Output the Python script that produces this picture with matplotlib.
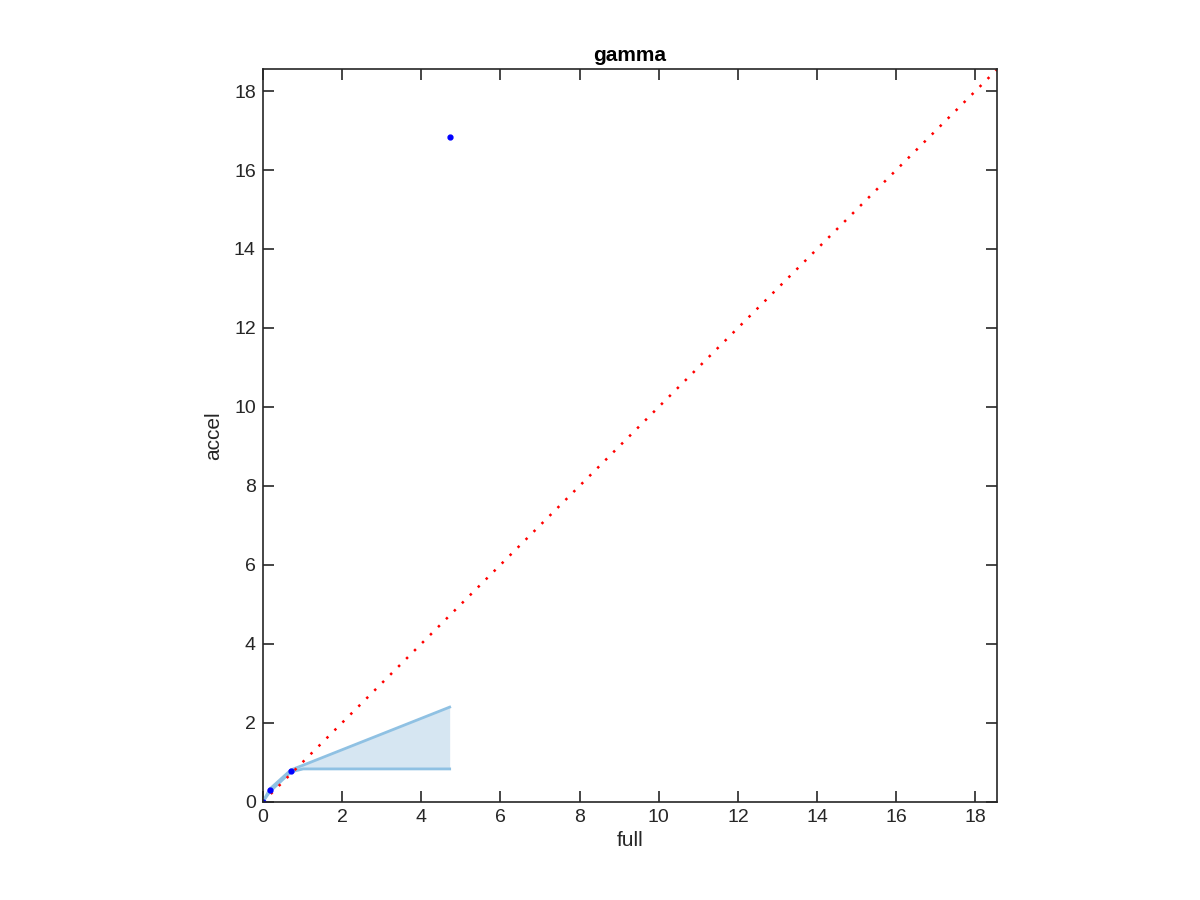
import matplotlib
matplotlib.use('Agg')
import matplotlib.pyplot as plt
import numpy as np

plt.rcParams['font.family'] = ['Liberation Sans', 'DejaVu Sans']

# scatter points (full vs accel)
full_pts = [0.0, 0.18, 0.71, 4.72]
accel_pts = [0.0, 0.30, 0.78, 16.83]

# shaded band
band_x = [0.0, 0.18, 0.71, 1.02, 4.72]
band_lo = [0.0, 0.26, 0.76, 0.835, 0.835]
band_hi = [0.0, 0.33, 0.81, 0.93, 2.40]

lim = 18.55

fig = plt.figure(figsize=(12, 9), dpi=100)
ax = fig.add_axes([0.219, 0.109, 0.612, 0.814])

ax.fill_between(band_x, band_lo, band_hi, color='#D6E6F2', linewidth=0)
ax.plot(band_x, band_lo, color='#8FC1E3', lw=2)
ax.plot(band_x, band_hi, color='#8FC1E3', lw=2)
ax.plot([0, lim], [0, lim], color='red', ls=(0, (1, 3.5)), lw=1.8)
ax.plot(full_pts, accel_pts, 'o', color='blue', ms=3.5, ls='none')

ax.set_xlim(0, lim)
ax.set_ylim(0, lim)
ticks = np.arange(0, 19, 2)
ax.set_xticks(ticks)
ax.set_yticks(ticks)
ax.tick_params(direction='in', top=True, right=True, length=8, width=1.2,
               labelsize=14, colors='#262626', pad=5)
for s in ax.spines.values():
    s.set_color('#262626')
    s.set_linewidth(1.2)

ax.set_xlabel('full', fontsize=15, color='#262626', labelpad=4)
ax.set_ylabel('accel', fontsize=15, color='#262626', labelpad=8)
ax.set_title('gamma', fontsize=15, fontweight='bold', pad=6)

fig.savefig('out.png', dpi=100)
